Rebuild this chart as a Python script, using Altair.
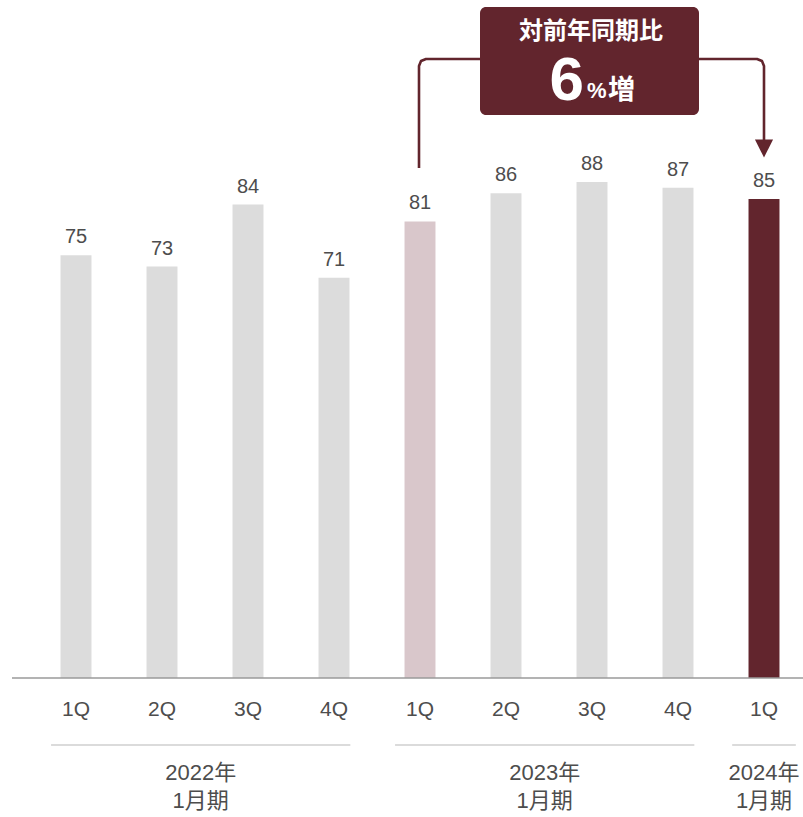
import altair as alt
import pandas as pd

# ---- data ----
quarters = ["1Q", "2Q", "3Q", "4Q", "1Q", "2Q", "3Q", "4Q", "1Q"]
values = [75, 73, 84, 71, 81, 86, 88, 87, 85]
bar_kind = ["past", "past", "past", "past", "compare", "past", "past", "past", "current"]
group_lines1 = ["2022年", "2023年", "2024年"]
group_lines2 = ["1月期", "1月期", "1月期"]
group_first = [0, 4, 8]
group_last = [3, 7, 8]
callout_title = "対前年同期比"
callout_value = "6"
callout_unit = "%"
callout_word = "増"

# ---- layout helpers (pixel -> data units) ----
W, H = 803, 817
X0, DX = 76.0, 86.0          # first bar center, spacing (px)
BASE, K = 678.0, 5.636       # baseline px, px per unit


def xi(px):
    return (px - X0) / DX


def yv(py):
    return (BASE - py) / K


XDOM = [xi(0), xi(W)]
YDOM = [yv(H), yv(0)]
xs = alt.Scale(domain=XDOM, nice=False, zero=False)
ys = alt.Scale(domain=YDOM, nice=False, zero=False)

FONT = "Liberation Sans, Helvetica, Arial, Noto Sans CJK JP"
TXT = "#4d4d4d"
DARK = "#62252d"

bars = pd.DataFrame({
    "i": list(range(len(values))),
    "q": quarters,
    "v": values,
    "kind": bar_kind,
})
bars["x1"] = bars["i"] - 0.18
bars["x2"] = bars["i"] + 0.18
bars["y0"] = 0
bars["tick_y"] = yv(710)

bar_layer = alt.Chart(bars).mark_bar().encode(
    x=alt.X("x1:Q", scale=xs, axis=None),
    x2="x2:Q",
    y=alt.Y("y0:Q", scale=ys, axis=None),
    y2="v:Q",
    color=alt.Color("kind:N", scale=alt.Scale(domain=["past", "compare", "current"],
                                              range=["#dcdcdc", "#d9c7cb", DARK]), legend=None),
)

value_labels = alt.Chart(bars).mark_text(
    baseline="bottom", dy=-8, fontSize=20, font=FONT, color=TXT
).encode(
    x=alt.X("i:Q", scale=xs), y=alt.Y("v:Q", scale=ys), text="v:N"
)

tick_labels = alt.Chart(bars).mark_text(
    baseline="middle", fontSize=21, font=FONT, color=TXT
).encode(
    x=alt.X("i:Q", scale=xs), y=alt.Y("tick_y:Q", scale=ys), text="q:N"
)

# baseline axis line
axis_df = pd.DataFrame({"a": [xi(12)], "b": [xi(803)], "y": [0]})
axis_line = alt.Chart(axis_df).mark_rule(color="#9a9a9a", strokeWidth=1.5).encode(
    x=alt.X("a:Q", scale=xs), x2="b:Q", y=alt.Y("y:Q", scale=ys)
)

# group spans below
gs, ge = [], []
for f, l in zip(group_first, group_last):
    if f == l:
        gs.append(f - 0.37)
        ge.append(l + 0.37)
    else:
        gs.append(f - 0.29)
        ge.append(l + 0.19)
groups = pd.DataFrame({
    "s": gs, "e": ge,
    "label": [a + "\n" + b for a, b in zip(group_lines1, group_lines2)],
})
groups["mid"] = (groups["s"] + groups["e"]) / 2
groups["ly"] = yv(745)
groups["ty"] = yv(763)

group_rules = alt.Chart(groups).mark_rule(color="#cfcfcf", strokeWidth=1.5).encode(
    x=alt.X("s:Q", scale=xs), x2="e:Q", y=alt.Y("ly:Q", scale=ys)
)
group_text = alt.Chart(groups).mark_text(
    baseline="top", fontSize=22, font=FONT, color=TXT, lineBreak="\n", lineHeight=28
).encode(
    x=alt.X("mid:Q", scale=xs), y=alt.Y("ty:Q", scale=ys), text="label:N"
)

# ---- callout ----
box = pd.DataFrame({"a": [xi(480)], "b": [xi(699)], "t": [yv(7)], "btm": [yv(115)]})
box_layer = alt.Chart(box).mark_rect(color=DARK, cornerRadius=6).encode(
    x=alt.X("a:Q", scale=xs), x2="b:Q", y=alt.Y("t:Q", scale=ys), y2="btm:Q"
)

r = 7.0  # corner radius px
lx, ly_top, ly_bot = 419.0, 59.0, 168.0
rx, ry_bot = 764.0, 141.0
cpts = [
    ("L", lx, ly_bot), ("L", lx, ly_top + r), ("L", lx + r * 0.29, ly_top + r * 0.29),
    ("L", lx + r, ly_top), ("L", 482.0, ly_top),
    ("R", 697.0, ly_top), ("R", rx - r, ly_top), ("R", rx - r * 0.29, ly_top + r * 0.29),
    ("R", rx, ly_top + r), ("R", rx, ry_bot),
]
conn = pd.DataFrame({
    "g": [c[0] for c in cpts],
    "o": list(range(len(cpts))),
    "x": [xi(c[1]) for c in cpts],
    "y": [yv(c[2]) for c in cpts],
})
conn_layer = alt.Chart(conn).mark_line(color=DARK, strokeWidth=2.6, strokeJoin="round").encode(
    x=alt.X("x:Q", scale=xs), y=alt.Y("y:Q", scale=ys), detail="g:N", order="o:Q"
)

arrow = pd.DataFrame({"x": [xi(rx)], "y": [yv(148.5)]})
arrow_layer = alt.Chart(arrow).mark_point(
    shape="M-1,-1L1,-1L0,1Z", size=330, filled=True, color=DARK, opacity=1
).encode(x=alt.X("x:Q", scale=xs), y=alt.Y("y:Q", scale=ys))

ctext = pd.DataFrame({
    "t": [callout_title], "x": [xi(591)], "y": [yv(32)],
})
title_layer = alt.Chart(ctext).mark_text(
    baseline="middle", fontSize=24, fontWeight="bold", font="Noto Sans CJK JP", color="white"
).encode(x=alt.X("x:Q", scale=xs), y=alt.Y("y:Q", scale=ys), text="t:N")

num = pd.DataFrame({"t": [callout_value], "x": [xi(584)], "y": [yv(100)]})
num_layer = alt.Chart(num).mark_text(
    baseline="alphabetic", align="right", fontSize=62, fontWeight="bold", font=FONT, color="white"
).encode(x=alt.X("x:Q", scale=xs), y=alt.Y("y:Q", scale=ys), text="t:N")

unit = pd.DataFrame({"t": [callout_unit], "x": [xi(587)], "y": [yv(98)]})
unit_layer = alt.Chart(unit).mark_text(
    baseline="alphabetic", align="left", fontSize=22, fontWeight="bold", font=FONT, color="white"
).encode(x=alt.X("x:Q", scale=xs), y=alt.Y("y:Q", scale=ys), text="t:N")

word = pd.DataFrame({"t": [callout_word], "x": [xi(608)], "y": [yv(99)]})
word_layer = alt.Chart(word).mark_text(
    baseline="alphabetic", align="left", fontSize=27, fontWeight="bold", font="Noto Sans CJK JP", color="white"
).encode(x=alt.X("x:Q", scale=xs), y=alt.Y("y:Q", scale=ys), text="t:N")

chart = alt.layer(
    bar_layer, axis_line, value_labels, tick_labels, group_rules, group_text,
    conn_layer, arrow_layer, box_layer, title_layer, num_layer, unit_layer, word_layer,
).properties(
    width=W, height=H, padding=0, autosize=alt.AutoSizeParams(type="none"),
    background="white",
).configure_view(stroke=None)

chart.save("out.html", embed_options={"renderer": "svg", "actions": False})
